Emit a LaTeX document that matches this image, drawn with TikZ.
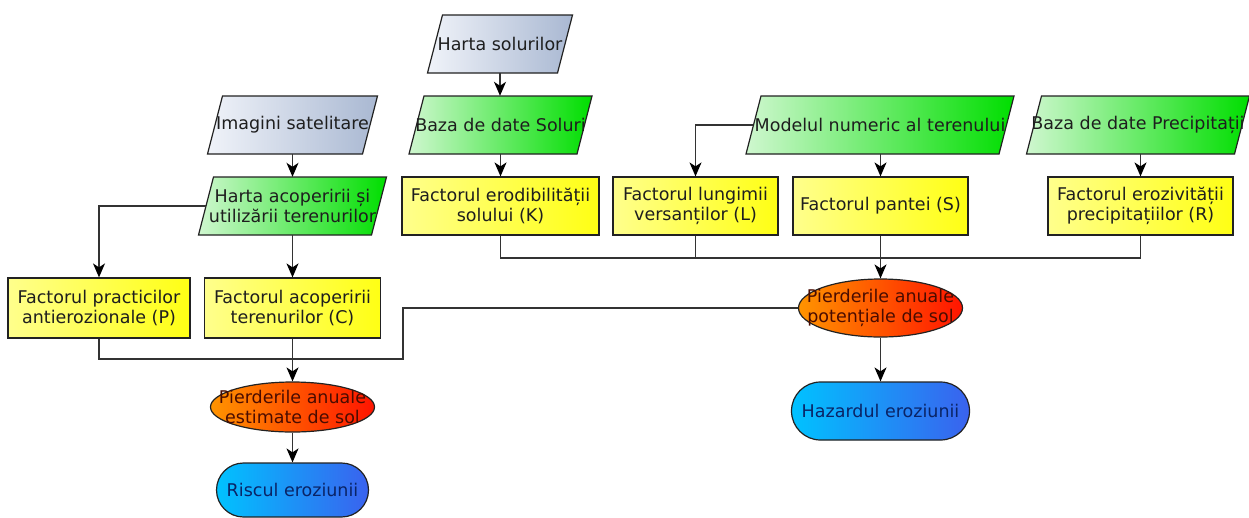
\documentclass[tikz,border=0pt]{standalone}
\usepackage{fontspec}
\setmainfont{DejaVu Sans}
\usetikzlibrary{arrows.meta,shapes.geometric,calc}
\definecolor{linec}{HTML}{333333}
\definecolor{bordc}{HTML}{222222}
\definecolor{txtc}{HTML}{1E1E1E}
\definecolor{grayL}{HTML}{F0F3F9}
\definecolor{grayR}{HTML}{A9B8D2}
\definecolor{greenL}{HTML}{CFF7CF}
\definecolor{greenR}{HTML}{00DE00}
\definecolor{yelL}{HTML}{FFFF8C}
\definecolor{yelR}{HTML}{FFFF14}
\definecolor{orL}{HTML}{FF9400}
\definecolor{orR}{HTML}{FF1400}
\definecolor{blL}{HTML}{00C2FF}
\definecolor{blR}{HTML}{3A62EE}
\definecolor{redtxt}{HTML}{4A0C00}
\definecolor{bluetxt}{HTML}{0A2466}
\tikzset{
  txt/.style={inner sep=0pt, align=center, text=txtc, font=\fontsize{17.5}{20.5}\selectfont},
  grayfill/.style={left color=grayL, right color=grayR},
  greenfill/.style={left color=greenL, right color=greenR},
  ybox/.style={txt, draw=bordc, line width=1.2pt, left color=yelL, right color=yelR, minimum height=58pt},
  ovalbox/.style={ellipse, draw=bordc, line width=1.2pt, left color=orL, right color=orR, inner sep=0pt},
  stadium/.style={txt, text=bluetxt, draw=bordc, line width=1.2pt, left color=blL, right color=blR, rounded corners=27pt},
  ln/.style={draw=linec, line width=1.5pt},
  arr/.style={ln, -{Stealth[length=14pt,width=12pt,inset=4pt,black]}},
}
% parallelogram: name, x, y, width, fill style, text
\newcommand\paranode[6]{%
  \path[#5, draw=bordc, line width=1.2pt]
    (#2-#4/2+7.5, #3-29) -- (#2+#4/2+7.5, #3-29) --
    (#2+#4/2-7.5, #3+29) -- (#2-#4/2-7.5, #3+29) -- cycle;
  \node[txt, minimum width=#4pt, minimum height=58pt] (#1) at (#2,#3) {#6};
}
\begin{document}
\begin{tikzpicture}[x=1pt,y=-1pt]
\useasboundingbox (0,0) rectangle (1249,517);
\fill[white] (0,0) rectangle (1249,517);

% parallelograms
\paranode{hs}{500}{44}{130}{grayfill}{Harta solurilor}
\paranode{bs}{500.5}{125}{168}{greenfill}{Baza de date Soluri}
\paranode{img}{292.5}{125}{155}{grayfill}{Imagini satelitare}
\paranode{hac}{292.5}{206}{173}{greenfill}{Harta acoperirii și\\utilizării terenurilor}
\paranode{mnt}{880}{125}{253}{greenfill}{Modelul numeric al terenului}
\paranode{bp}{1138}{125}{208}{greenfill}{Baza de date Precipitații}

% factor boxes
\node[ybox, minimum width=197pt] (K) at (500.5,206) {Factorul erodibilității\\solului (K)};
\node[ybox, minimum width=165pt] (L) at (695.5,206) {Factorul lungimii\\versanților (L)};
\node[ybox, minimum width=175pt] (S) at (880.5,206) {Factorul pantei (S)};
\node[ybox, minimum width=185pt] (R) at (1140.5,206) {Factorul erozivității\\precipitațiilor (R)};
\node[ybox, minimum width=182pt, minimum height=60pt] (P) at (99,308) {Factorul practicilor\\antierozionale (P)};
\node[ybox, minimum width=176pt, minimum height=60pt] (C) at (292.5,308) {Factorul acoperirii\\terenurilor (C)};

% ellipses
\node[ovalbox, minimum width=164pt, minimum height=58pt] (pot) at (880.5,308) {};
\node[txt, text=redtxt] (pottxt) at (pot.center) {Pierderile anuale\\potențiale de sol};
\node[ovalbox, minimum width=164pt, minimum height=50pt] (est) at (292.5,407) {};
\node[txt, text=redtxt] (esttxt) at (est.center) {Pierderile anuale\\estimate de sol};

% terminals
\node[stadium, minimum width=178pt, minimum height=58pt, rounded corners=29pt] (haz) at (880.5,411) {Hazardul eroziunii};
\node[stadium, minimum width=152pt, minimum height=54pt] (risc) at (292.5,490) {Riscul eroziunii};

% connectors
\coordinate (jt) at (0,258);
\coordinate (jb) at (0,359);
\coordinate (kb) at (403,359);

\draw[arr] (hs.south) -- (hs.south |- bs.north);
\draw[arr] (bs.south) -- (bs.south |- K.north);
\draw[arr] (img.south) -- (img.south |- hac.north);
\draw[arr] (mnt.west) -| (L.north);
\draw[arr] (S.north |- mnt.south) -- (S.north);
\draw[arr] (R.north |- bp.south) -- (R.north);
\draw[arr] (hac.west) -| (P.north);
\draw[arr] (hac.south) -- (hac.south |- C.north);

\draw[ln] (K.south) |- (R.south |- jt) -- (R.south);
\draw[ln] (L.south) -- (L.south |- jt);
\draw[arr] (S.south) -- (pot.north);

\draw[ln] (P.south) |- (C.south |- jb);
\draw[ln] (pot.west) -| (kb) -- (C.south |- jb);
\draw[arr] (C.south) -- (est.north);

\draw[arr] (est.south) -- (risc.north);
\draw[arr] (pot.south) -- (haz.north);
\end{tikzpicture}
\end{document}
